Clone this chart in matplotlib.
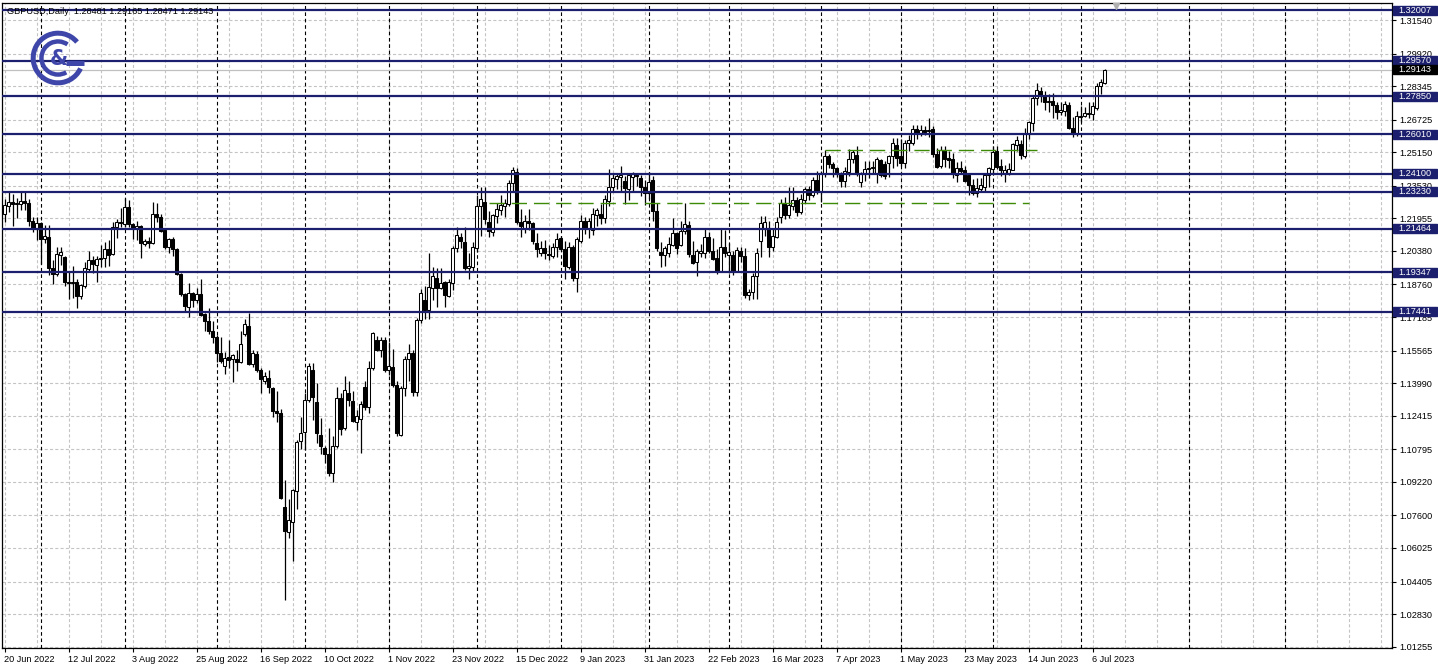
import matplotlib
matplotlib.use("Agg")
import matplotlib.pyplot as plt
import matplotlib.transforms as mtrans
from matplotlib.patches import Rectangle, Arc
import numpy as np
import pandas as pd

plt.rcParams['lines.scale_dashes'] = False
plt.rcParams['font.family'] = ['Liberation Sans', 'DejaVu Sans']

# ---------------- data ----------------
title_text = "GBPUSD,Daily  1.28481 1.29165 1.28471 1.29143"
dates = pd.bdate_range("2022-06-20", "2023-07-11").drop(pd.Timestamp("2022-12-26"))

opens = [
    1.2215, 1.2255, 1.2275, 1.2265, 1.2265, 1.2280, 1.2270, 1.2185, 1.2145, 1.2175,
    1.2095, 1.2105, 1.1955, 1.1925, 1.2020, 1.2010, 1.1890, 1.1885, 1.1890, 1.1820,
    1.1870, 1.1950, 1.1995, 1.1970, 1.2000, 1.2005, 1.2045, 1.2025, 1.2155, 1.2180,
    1.2170, 1.2250, 1.2170, 1.2150, 1.2160, 1.2070, 1.2085, 1.2075, 1.2215, 1.2200,
    1.2140, 1.2055, 1.2095, 1.2045, 1.1925, 1.1830, 1.1765, 1.1835, 1.1800, 1.1830,
    1.1735, 1.1700, 1.1650, 1.1620, 1.1545, 1.1480, 1.1525, 1.1515, 1.1515, 1.1500,
    1.1635, 1.1675, 1.1490, 1.1540, 1.1465, 1.1410, 1.1425, 1.1375, 1.1265, 1.1255,
    1.0800, 1.0680, 1.0730, 1.0880, 1.1120, 1.1165, 1.1320, 1.1465, 1.1310, 1.1150,
    1.1085, 1.1055, 1.0965, 1.1095, 1.1325, 1.1180, 1.1350, 1.1315, 1.1210, 1.1225,
    1.1380, 1.1285, 1.1470, 1.1610, 1.1560, 1.1610, 1.1465, 1.1477, 1.1390, 1.1150,
    1.1375, 1.1515, 1.1545, 1.1355, 1.1705, 1.1800, 1.1755, 1.1860, 1.1905, 1.1860,
    1.1890, 1.1820, 1.1885, 1.2050, 1.2105, 1.2080, 1.1955, 1.1960, 1.2050, 1.2255,
    1.2275, 1.2180, 1.2130, 1.2205, 1.2235, 1.2255, 1.2265, 1.2365, 1.2420, 1.2180,
    1.2150, 1.2185, 1.2175, 1.2075, 1.2030, 1.2050, 1.2025, 1.2015, 1.2055, 1.2100,
    1.2045, 1.1960, 1.2055, 1.1905, 1.2085, 1.2185, 1.2150, 1.2140, 1.2210, 1.2215,
    1.2195, 1.2280, 1.2345, 1.2385, 1.2396, 1.2375, 1.2335, 1.2395, 1.2407, 1.2390,
    1.2345, 1.2320, 1.2380, 1.2230, 1.2035, 1.2020, 1.2028, 1.2065, 1.2125, 1.2068,
    1.2133, 1.2165, 1.2020, 1.1983, 1.2028, 1.2030, 1.2105, 1.2040, 1.2002, 1.1940,
    1.2057, 1.2020, 1.2020, 1.1940, 1.2036, 1.2015, 1.1825, 1.1840, 1.1918, 1.2085,
    1.2142, 1.2150, 1.2055, 1.2105, 1.2200, 1.2272, 1.2210, 1.2255, 1.2285, 1.2225,
    1.2285, 1.2335, 1.2310, 1.2382, 1.2326, 1.2412, 1.2498, 1.2460, 1.2440, 1.2412,
    1.2375, 1.2420, 1.2482, 1.2500, 1.2370, 1.2415, 1.2435, 1.2437, 1.2415, 1.2479,
    1.2460, 1.2463, 1.2495, 1.2552, 1.2495, 1.2463, 1.2560, 1.2560, 1.2627, 1.2608,
    1.2621, 1.2616, 1.2625, 1.2505, 1.2447, 1.2527, 1.2485, 1.2480, 1.2405, 1.2440,
    1.2430, 1.2405, 1.2355, 1.2318, 1.2335, 1.2345, 1.2405, 1.2435, 1.2522, 1.2450,
    1.2415, 1.2415, 1.2431, 1.2552, 1.2555, 1.2498, 1.2605, 1.2656, 1.2777, 1.2809,
    1.2788, 1.2756, 1.2764, 1.2745, 1.2708, 1.2712, 1.2745, 1.2632, 1.2608, 1.2684,
    1.2688, 1.2700, 1.2700, 1.2729, 1.2833, 1.28481,
]
highs = [
    1.2290, 1.2325, 1.2315, 1.2295, 1.2325, 1.2330, 1.2290, 1.2200, 1.2200, 1.2180,
    1.2165, 1.2165, 1.1995, 1.2055, 1.2057, 1.2015, 1.1935, 1.1965, 1.1900, 1.1880,
    1.1985, 1.2040, 1.2015, 1.2012, 1.2065, 1.2080, 1.2090, 1.2180, 1.2192, 1.2245,
    1.2295, 1.2285, 1.2175, 1.2185, 1.2165, 1.2095, 1.2105, 1.2275, 1.2270, 1.2215,
    1.2150, 1.2100, 1.2105, 1.2050, 1.1930, 1.1835, 1.1885, 1.1840, 1.1860, 1.1900,
    1.1740, 1.1760, 1.1700, 1.1630, 1.1620, 1.1550, 1.1610, 1.1540, 1.1560, 1.1650,
    1.1710, 1.1740, 1.1560, 1.1555, 1.1470, 1.1455, 1.1465, 1.1380, 1.1360, 1.1275,
    1.0930, 1.0840, 1.0890, 1.1125, 1.1235, 1.1351, 1.1496, 1.1496, 1.1400, 1.1230,
    1.1093, 1.1182, 1.1142, 1.1380, 1.1351, 1.1435, 1.1408, 1.1360, 1.1271, 1.1311,
    1.1408, 1.1504, 1.1645, 1.1625, 1.1620, 1.1620, 1.1600, 1.1565, 1.1410, 1.1385,
    1.1530, 1.1590, 1.1560, 1.1715, 1.1855, 1.1870, 1.2030, 1.1960, 1.1955, 1.1955,
    1.1895, 1.1900, 1.2060, 1.2155, 1.2125, 1.2155, 1.2030, 1.2080, 1.2310, 1.2345,
    1.2345, 1.2230, 1.2215, 1.2270, 1.2310, 1.2290, 1.2380, 1.2445, 1.2440, 1.2240,
    1.2210, 1.2240, 1.2180, 1.2125, 1.2085, 1.2090, 1.2065, 1.2075, 1.2125, 1.2110,
    1.2085, 1.2080, 1.2065, 1.2105, 1.2210, 1.2200, 1.2195, 1.2245, 1.2245, 1.2265,
    1.2310, 1.2435, 1.2410, 1.2410, 1.2450, 1.2400, 1.2415, 1.2420, 1.2417, 1.2405,
    1.2380, 1.2420, 1.2400, 1.2270, 1.2080, 1.2060, 1.2105, 1.2195, 1.2130, 1.2185,
    1.2270, 1.2185, 1.2085, 1.2045, 1.2070, 1.2145, 1.2130, 1.2100, 1.2045, 1.2145,
    1.2140, 1.2075, 1.2040, 1.2055, 1.2055, 1.2050, 1.1855, 1.1930, 1.2050, 1.2205,
    1.2205, 1.2185, 1.2145, 1.2200, 1.2290, 1.2300, 1.2345, 1.2345, 1.2300, 1.2315,
    1.2345, 1.2350, 1.2395, 1.2425, 1.2425, 1.2525, 1.2505, 1.2470, 1.2445, 1.2420,
    1.2445, 1.2530, 1.2525, 1.2545, 1.2420, 1.2475, 1.2475, 1.2475, 1.2490, 1.2480,
    1.2475, 1.2500, 1.2585, 1.2585, 1.2580, 1.2575, 1.2600, 1.2645, 1.2645, 1.2645,
    1.2640, 1.2680, 1.2640, 1.2535, 1.2545, 1.2545, 1.2520, 1.2510, 1.2470, 1.2475,
    1.2450, 1.2415, 1.2385, 1.2390, 1.2390, 1.2415, 1.2445, 1.2545, 1.2545, 1.2480,
    1.2455, 1.2465, 1.2560, 1.2595, 1.2575, 1.2630, 1.2665, 1.2790, 1.2848, 1.2830,
    1.2810, 1.2795, 1.2800, 1.2760, 1.2760, 1.2765, 1.2760, 1.2685, 1.2715, 1.2740,
    1.2735, 1.2760, 1.2760, 1.2850, 1.2870, 1.29165,
]
lows = [
    1.2180, 1.2225, 1.2160, 1.2195, 1.2235, 1.2235, 1.2160, 1.2130, 1.2090, 1.1975,
    1.2075, 1.1923, 1.1880, 1.1915, 1.1970, 1.1870, 1.1805, 1.1810, 1.1760, 1.1805,
    1.1860, 1.1940, 1.1930, 1.1890, 1.1960, 1.1960, 1.1965, 1.2020, 1.2100, 1.2155,
    1.2155, 1.2155, 1.2095, 1.2090, 1.2005, 1.2060, 1.2050, 1.2070, 1.2180, 1.2130,
    1.2045, 1.2030, 1.2012, 1.1923, 1.1820, 1.1745, 1.1720, 1.1765, 1.1785, 1.1725,
    1.1650, 1.1635, 1.1595, 1.1500, 1.1495, 1.1445, 1.1472, 1.1405, 1.1460, 1.1495,
    1.1625, 1.1485, 1.1475, 1.1455, 1.1350, 1.1395, 1.1350, 1.1235, 1.1210, 1.0840,
    1.0350, 1.0650, 1.0540, 1.0790, 1.1080, 1.1078, 1.1310, 1.1222, 1.1110, 1.1055,
    1.1013, 1.0949, 1.0920, 1.1085, 1.1150, 1.1175, 1.1287, 1.1210, 1.1174, 1.1060,
    1.1271, 1.1255, 1.1465, 1.1553, 1.1525, 1.1455, 1.1440, 1.1380, 1.1145, 1.1145,
    1.1335, 1.1410, 1.1335, 1.1335, 1.1690, 1.1710, 1.1710, 1.1800, 1.1765, 1.1855,
    1.1765, 1.1815, 1.1850, 1.2035, 1.2050, 1.1945, 1.1900, 1.1935, 1.2035, 1.2110,
    1.2170, 1.2105, 1.2110, 1.2175, 1.2210, 1.2200, 1.2255, 1.2330, 1.2170, 1.2105,
    1.2125, 1.2140, 1.2070, 1.2010, 1.2015, 1.2000, 1.1995, 1.2005, 1.2010, 1.2040,
    1.1900, 1.1950, 1.1895, 1.1840, 1.2075, 1.2120, 1.2100, 1.2115, 1.2160, 1.2170,
    1.2175, 1.2255, 1.2330, 1.2335, 1.2330, 1.2265, 1.2285, 1.2330, 1.2350, 1.2305,
    1.2260, 1.2290, 1.2185, 1.2040, 1.1960, 1.1965, 1.2010, 1.2060, 1.2025, 1.2060,
    1.2120, 1.2010, 1.1975, 1.1915, 1.2010, 1.2005, 1.2030, 1.1995, 1.1925, 1.1935,
    1.2010, 1.1930, 1.1920, 1.1935, 1.1985, 1.1810, 1.1803, 1.1805, 1.1805, 1.2010,
    1.2110, 1.2010, 1.2040, 1.2100, 1.2175, 1.2190, 1.2195, 1.2235, 1.2205, 1.2215,
    1.2270, 1.2285, 1.2300, 1.2315, 1.2275, 1.2395, 1.2440, 1.2395, 1.2395, 1.2345,
    1.2345, 1.2400, 1.2465, 1.2400, 1.2345, 1.2375, 1.2390, 1.2410, 1.2365, 1.2395,
    1.2385, 1.2395, 1.2440, 1.2450, 1.2450, 1.2440, 1.2520, 1.2550, 1.2580, 1.2595,
    1.2600, 1.2590, 1.2490, 1.2440, 1.2440, 1.2445, 1.2440, 1.2390, 1.2370, 1.2410,
    1.2370, 1.2310, 1.2310, 1.2300, 1.2325, 1.2325, 1.2345, 1.2410, 1.2435, 1.2400,
    1.2370, 1.2405, 1.2430, 1.2520, 1.2480, 1.2485, 1.2580, 1.2620, 1.2745, 1.2760,
    1.2720, 1.2710, 1.2680, 1.2675, 1.2695, 1.2690, 1.2625, 1.2590, 1.2595, 1.2660,
    1.2685, 1.2680, 1.2670, 1.2720, 1.2795, 1.28471,
]
closes = [
    1.2260, 1.2275, 1.2265, 1.2270, 1.2280, 1.2270, 1.2185, 1.2145, 1.2175, 1.2095,
    1.2110, 1.1955, 1.1925, 1.2025, 1.2035, 1.1890, 1.1885, 1.1890, 1.1820, 1.1875,
    1.1955, 1.1995, 1.1975, 1.2000, 1.2005, 1.2045, 1.2020, 1.2155, 1.2180, 1.2175,
    1.2250, 1.2170, 1.2150, 1.2160, 1.2075, 1.2085, 1.2078, 1.2215, 1.2200, 1.2135,
    1.2055, 1.2095, 1.2045, 1.1925, 1.1830, 1.1770, 1.1835, 1.1800, 1.1830, 1.1730,
    1.1700, 1.1650, 1.1620, 1.1545, 1.1505, 1.1520, 1.1510, 1.1535, 1.1500, 1.1590,
    1.1685, 1.1490, 1.1545, 1.1465, 1.1420, 1.1435, 1.1380, 1.1265, 1.1255, 1.0845,
    1.0685, 1.0740, 1.0885, 1.1115, 1.1160, 1.1320, 1.1480, 1.1330, 1.1160, 1.1095,
    1.1055, 1.0965, 1.1095, 1.1325, 1.1177, 1.1365, 1.1320, 1.1215, 1.1240, 1.1300,
    1.1285, 1.1470, 1.1640, 1.1560, 1.1610, 1.1465, 1.1480, 1.1390, 1.1160, 1.1375,
    1.1515, 1.1545, 1.1355, 1.1705, 1.1835, 1.1755, 1.1865, 1.1915, 1.1860, 1.1885,
    1.1825, 1.1890, 1.2050, 1.2115, 1.2085, 1.1955, 1.1965, 1.2055, 1.2255, 1.2290,
    1.2190, 1.2135, 1.2210, 1.2240, 1.2260, 1.2270, 1.2365, 1.2430, 1.2180, 1.2160,
    1.2185, 1.2175, 1.2085, 1.2045, 1.2050, 1.2030, 1.2020, 1.2055, 1.2095, 1.2045,
    1.1965, 1.2055, 1.1905, 1.2095, 1.2185, 1.2150, 1.2185, 1.2215, 1.2235, 1.2195,
    1.2290, 1.2345, 1.2390, 1.2400, 1.2403, 1.2340, 1.2405, 1.2412, 1.2400, 1.2345,
    1.2320, 1.2370, 1.2230, 1.2050, 1.2020, 1.2052, 1.2073, 1.2125, 1.2052, 1.2133,
    1.2170, 1.2025, 1.1980, 1.2040, 1.2036, 1.2105, 1.2036, 1.2000, 1.1940, 1.2057,
    1.2028, 1.2033, 1.1940, 1.2043, 1.2015, 1.1825, 1.1840, 1.1918, 1.2030, 1.2175,
    1.2176, 1.2055, 1.2110, 1.2180, 1.2272, 1.2213, 1.2262, 1.2285, 1.2225, 1.2290,
    1.2335, 1.2310, 1.2382, 1.2326, 1.2415, 1.2498, 1.2460, 1.2440, 1.2412, 1.2375,
    1.2423, 1.2482, 1.2515, 1.2412, 1.2415, 1.2435, 1.2440, 1.2443, 1.2482, 1.2407,
    1.2402, 1.2495, 1.2560, 1.2487, 1.2463, 1.2560, 1.2573, 1.2627, 1.2608, 1.2621,
    1.2612, 1.2624, 1.2505, 1.2445, 1.2527, 1.2482, 1.2478, 1.2410, 1.2440, 1.2425,
    1.2375, 1.2355, 1.2320, 1.2342, 1.2355, 1.2405, 1.2438, 1.2518, 1.2445, 1.2428,
    1.2430, 1.2434, 1.2555, 1.2576, 1.2500, 1.2605, 1.2659, 1.2777, 1.2815, 1.2788,
    1.2756, 1.2764, 1.2745, 1.2708, 1.2717, 1.2748, 1.2632, 1.2608, 1.2688, 1.2688,
    1.2704, 1.2705, 1.2737, 1.2833, 1.2852, 1.29143,
]

level_prices = [1.32007, 1.29570, 1.27850, 1.26010, 1.24100, 1.23230, 1.21464, 1.19347, 1.17441]
last_price = 1.29143
price_ticks = [1.31540, 1.29920, 1.28345, 1.26725, 1.25150, 1.23530, 1.21955, 1.20380,
               1.18760, 1.17185, 1.15565, 1.13990, 1.12415, 1.10795, 1.09220, 1.07600,
               1.06025, 1.04405, 1.02830, 1.01255]
date_label_days = ["2022-06-20", "2022-07-12", "2022-08-03", "2022-08-25", "2022-09-16",
                   "2022-10-10", "2022-11-01", "2022-11-23", "2022-12-15", "2023-01-09",
                   "2023-01-31", "2023-02-22", "2023-03-16", "2023-04-07", "2023-05-01",
                   "2023-05-23", "2023-06-14", "2023-07-06"]
# green dashed horizontal objects: (price, start date, end date)
green_lines = [(1.2268, "2022-12-06", "2023-06-14"),
               (1.2527, "2023-04-04", "2023-06-16")]
# separators drawn in the empty (future) area, in bars after the last bar
future_separator_offsets = [21, 45]

# ---------------- style ----------------
W, H = 1438, 671
NAVY = "#1b1f6e"
GRID = "#c4c4c4"
GREEN = "#3c8a06"
LOGO = "#3f46a9"
FS = 6.6

fig = plt.figure(figsize=(W / 100, H / 100), dpi=100)
fig.patch.set_facecolor("white")
ax_l, ax_r, ax_t, ax_b = 2, 1392, 3, 648
ax = fig.add_axes([ax_l / W, 1 - ax_b / H, (ax_r - ax_l) / W, (ax_b - ax_t) / H])

px_per_bar = 4.0
x0_px = 4.5
ax.set_xlim((ax_l - x0_px) / px_per_bar, (ax_r - x0_px) / px_per_bar)
p_per_px = 0.00048325
ref_y = 646.7
ax.set_ylim(1.01255 + (ref_y - ax_b) * p_per_px, 1.01255 + (ref_y - ax_t) * p_per_px)

n = len(closes)
x = np.arange(n)
o = np.array(opens); h = np.array(highs); l = np.array(lows); c = np.array(closes)

# grid
for p in price_ticks:
    ax.axhline(p, color=GRID, lw=0.8, linestyle=(0, (2.2, 1.6)), zorder=0.5)
for i in np.arange(0, 348, 8):
    ax.axvline(i, color=GRID, lw=0.8, linestyle=(0, (2.2, 1.6)), zorder=0.5)
# month separators
sep_style = dict(color="black", lw=0.8, linestyle=(0, (2.6, 2.0)), zorder=0.6)
for i in range(1, n):
    if dates[i].month != dates[i - 1].month:
        ax.axvline(i, **sep_style)
for k in future_separator_offsets:
    ax.axvline(n - 1 + k, **sep_style)

# candles
ax.vlines(x, l, h, color="black", lw=0.9, zorder=2)
up = c >= o
body_lo = np.minimum(o, c)
body_h = np.maximum(np.abs(c - o), 0.00005)
ax.bar(x[up], body_h[up], bottom=body_lo[up], width=0.55, color="white",
       edgecolor="black", linewidth=0.75, zorder=3)
ax.bar(x[~up], body_h[~up], bottom=body_lo[~up], width=0.55, color="black",
       edgecolor="black", linewidth=0.75, zorder=3)

# bid line
ax.axhline(last_price, color="#c0c0c0", lw=0.9, zorder=1)

# level lines
for p in level_prices:
    ax.axhline(p, color=NAVY, lw=1.6, zorder=4)

# green dashed objects
for p, d0, d1 in green_lines:
    i0 = dates.get_loc(pd.Timestamp(d0))
    i1 = dates.get_loc(pd.Timestamp(d1))
    ax.hlines(p, i0, i1, color=GREEN, lw=1.0, linestyle=(0, (11, 5)), zorder=4)

# chart-shift marker at top
ax.plot([n + 1.8], [ax.get_ylim()[1] - 3 * p_per_px], marker="v", ms=4,
        color="#b0b0b0", clip_on=False, zorder=5)

# axes styling
for s in ax.spines.values():
    s.set_color("black"); s.set_linewidth(0.9)
ax.yaxis.tick_right()
ax.set_yticks(price_ticks)
ax.set_yticklabels([f"{p:.5f}" for p in price_ticks])
ax.tick_params(axis="y", length=3, width=0.8, pad=2, labelsize=FS, colors="black")

tick_pos = [dates.get_loc(pd.Timestamp(d)) for d in date_label_days]
tick_lab = [f"{pd.Timestamp(d).day} {pd.Timestamp(d):%b %Y}" for d in date_label_days]
ax.set_xticks(tick_pos)
ax.set_xticklabels(tick_lab, ha="left")
ax.tick_params(axis="x", length=3, width=0.8, pad=2, labelsize=FS, colors="black")

# price label boxes on right scale
tr = mtrans.blended_transform_factory(ax.transAxes, ax.transData)
box_w = 44 / (ax_r - ax_l)
box_h = 9 * p_per_px
for p in level_prices:
    ax.add_patch(Rectangle((1.0008, p - box_h / 2), box_w, box_h, transform=tr,
                           facecolor=NAVY, edgecolor=NAVY, clip_on=False, zorder=10))
    ax.text(1.0008 + box_w / 2, p, f"{p:.5f}", transform=tr, color="white",
            fontsize=FS, ha="center", va="center", clip_on=False, zorder=11)
ax.add_patch(Rectangle((1.0008, last_price - box_h / 2), box_w, box_h, transform=tr,
                       facecolor="black", edgecolor="black", clip_on=False, zorder=10))
ax.text(1.0008 + box_w / 2, last_price, f"{last_price:.5f}", transform=tr, color="white",
        fontsize=FS, ha="center", va="center", clip_on=False, zorder=11)

# title
fig.text(7 / W, 1 - 12 / H, title_text, fontsize=FS, color="black", ha="left", va="center")

# logo
lax = fig.add_axes([30 / W, 1 - 86 / H, 56 / W, 56 / H])
lax.set_xlim(-1.1, 1.1); lax.set_ylim(-1.1, 1.1); lax.axis("off")
lax.patch.set_alpha(0)
lax.add_patch(Arc((0, 0), 1.95, 1.95, theta1=40, theta2=335, lw=3.6, color=LOGO))
lax.add_patch(Arc((0, 0), 1.3, 1.3, theta1=55, theta2=300, lw=3.2, color=LOGO))
lax.plot([0.3, 1.02], [-0.18, -0.18], color=LOGO, lw=3.6, solid_capstyle="butt")
lax.text(0.05, -0.02, "&", color=LOGO, fontsize=15, fontweight="bold",
         ha="center", va="center", family="DejaVu Sans")

fig.savefig("out.png", dpi=100, facecolor="white")
